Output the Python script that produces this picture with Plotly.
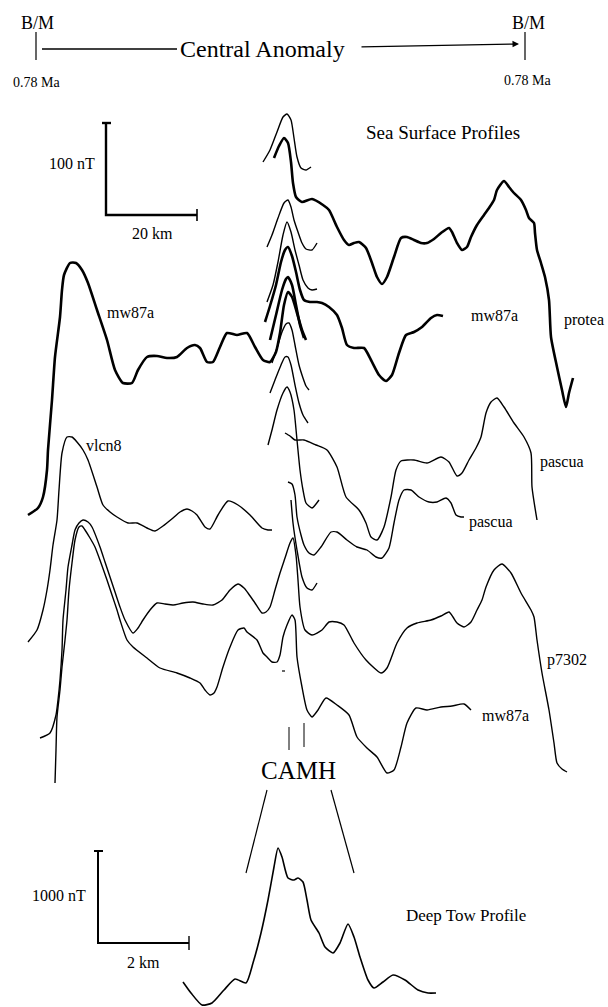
import plotly.graph_objects as go

# Digitised profile traces (page units: x to the right, y downward)
# ---- sea-surface profiles ----
protea_x = [274, 279, 284, 288, 291, 293, 296, 302, 312, 323, 329, 337, 344, 349, 354, 359, 366, 372, 377, 382, 387, 394, 401, 407, 414, 421, 427, 434, 441, 449, 452, 457, 462, 467, 471, 477, 484, 489, 494, 497, 504, 509, 514, 521, 526, 529, 534, 535, 537, 541, 545, 549, 551, 557, 562, 566, 569, 573]
protea_y = [158, 146, 138, 143, 162, 183, 197, 202, 199, 205, 210, 227, 240, 245, 243, 242, 248, 263, 277, 284, 277, 257, 238, 237, 240, 243, 243, 239, 233, 228, 232, 243, 250, 247, 237, 225, 215, 208, 200, 190, 181, 187, 193, 200, 210, 218, 223, 233, 250, 263, 277, 300, 337, 367, 390, 407, 393, 378]

mw87a_r_x = [265, 270, 276, 281, 285, 288, 292, 296, 300, 304, 310, 317, 322, 329, 337, 342, 347, 354, 364, 371, 379, 386, 392, 399, 406, 414, 422, 431, 437, 443]
mw87a_r_y = [322, 306, 285, 262, 250, 247, 256, 272, 290, 300, 302, 302, 303, 307, 315, 328, 345, 348, 348, 360, 375, 381, 375, 353, 335, 332, 327, 318, 315, 316]

mw87a_l_x = [28, 38, 43, 47, 48, 52, 55, 60, 62, 64, 70, 76, 82, 88, 97, 107, 115, 123, 132, 138, 147, 157, 167, 177, 187, 195, 200, 207, 213, 220, 227, 237, 247, 255, 263, 270, 276, 280, 284, 288, 292, 297, 302, 306]
mw87a_l_y = [515, 508, 497, 470, 450, 400, 357, 317, 290, 275, 263, 263, 270, 283, 310, 340, 370, 383, 383, 370, 357, 356, 358, 357, 348, 345, 348, 362, 362, 347, 333, 335, 333, 347, 360, 362, 352, 333, 305, 292, 297, 313, 330, 340]

vlcn8_x = [28, 37, 43, 47, 50, 53, 57, 59, 62, 67, 72, 77, 83, 88, 97, 103, 110, 117, 128, 137, 147, 155, 163, 173, 180, 187, 192, 197, 205, 210, 218, 228, 238, 250, 262, 268, 272]
vlcn8_y = [642, 630, 610, 590, 570, 545, 520, 490, 453, 437, 437, 442, 450, 460, 487, 505, 512, 517, 523, 523, 528, 531, 526, 518, 512, 509, 511, 515, 527, 529, 515, 501, 505, 515, 528, 530, 530]

pascua_u_x = [285, 290, 295, 304, 316, 327, 337, 346, 359, 366, 371, 377, 384, 391, 396, 401, 414, 427, 441, 449, 457, 462, 469, 476, 481, 486, 491, 497, 504, 514, 524, 531, 532, 537]
pascua_u_y = [433, 436, 440, 440, 445, 450, 467, 497, 510, 523, 537, 540, 527, 497, 470, 461, 460, 463, 457, 462, 476, 473, 460, 448, 437, 413, 402, 398, 407, 423, 437, 453, 487, 520]

pascua_l_x = [288, 292, 295, 297, 301, 304, 309, 314, 321, 331, 337, 347, 357, 367, 376, 382, 389, 394, 399, 404, 411, 419, 429, 437, 446, 451, 456, 461, 464]
pascua_l_y = [482, 484, 495, 517, 535, 545, 553, 555, 547, 532, 532, 540, 547, 550, 557, 558, 548, 523, 500, 490, 490, 497, 502, 502, 498, 503, 515, 517, 517]

p7302_x = [40, 50, 56, 58, 60, 62, 63, 66, 68, 72, 75, 79, 83, 88, 92, 100, 105, 110, 115, 120, 125, 133, 138, 143, 150, 157, 165, 173, 183, 193, 203, 213, 222, 230, 238, 244, 248, 255, 262, 266, 270, 275, 280, 285, 290, 293, 296, 298, 300, 305, 312, 322, 329, 337, 344, 354, 366, 381, 387, 397, 407, 417, 431, 441, 449, 453, 457, 464, 471, 477, 482, 486, 494, 502, 511, 521, 531, 534, 537, 542, 549, 554, 557, 562, 567]
p7302_y = [738, 733, 715, 700, 680, 650, 620, 590, 567, 545, 530, 523, 520, 522, 527, 547, 562, 577, 592, 607, 620, 633, 628, 620, 610, 603, 604, 605, 603, 602, 604, 605, 600, 590, 584, 588, 593, 603, 613, 612, 607, 590, 573, 558, 543, 538, 555, 580, 607, 630, 635, 630, 622, 622, 625, 643, 660, 673, 668, 643, 628, 623, 620, 616, 612, 617, 623, 627, 622, 610, 600, 587, 570, 564, 573, 593, 610, 617, 640, 673, 710, 743, 763, 769, 772]

mw87a_b_x = [55, 56, 57, 60, 62, 65, 67, 69, 72, 75, 79, 82, 85, 90, 95, 101, 107, 112, 117, 120, 127, 133, 147, 160, 177, 190, 200, 205, 210, 214, 217, 223, 230, 238, 244, 247, 257, 263, 267, 272, 277, 280, 283, 287, 292, 295, 297, 302, 307, 312, 318, 326, 337, 349, 357, 367, 377, 387, 394, 401, 407, 416, 427, 441, 452, 464, 471]
mw87a_b_y = [783, 750, 717, 690, 667, 640, 620, 590, 563, 540, 527, 526, 530, 538, 547, 563, 580, 595, 610, 620, 640, 647, 658, 668, 673, 678, 683, 690, 695, 693, 687, 667, 647, 630, 628, 632, 640, 653, 657, 662, 662, 655, 637, 625, 615, 620, 657, 687, 710, 717, 710, 698, 705, 715, 737, 748, 757, 773, 770, 747, 723, 708, 710, 707, 706, 704, 710]

# short central strokes (stacked peaks)
c1_x = [263, 270, 277, 283, 287, 291, 294, 297, 301, 306, 311]
c1_y = [162, 150, 132, 117, 114, 120, 138, 157, 168, 170, 167]
c2_x = [267, 272, 278, 284, 288, 291, 294, 298, 302, 306, 312, 317]
c2_y = [247, 235, 218, 203, 200, 207, 220, 232, 243, 249, 250, 243]
c3_x = [267, 273, 278, 283, 287, 291, 295, 299, 303, 308, 312, 317]
c3_y = [302, 285, 262, 235, 222, 232, 250, 265, 280, 288, 290, 289]
c4_x = [270, 276, 282, 286, 288, 292, 296, 300, 304]
c4_y = [340, 315, 290, 279, 277, 285, 305, 325, 338]
c5_x = [272, 277, 282, 286, 289, 292, 295, 299, 303, 306, 309]
c5_y = [363, 348, 332, 324, 323, 330, 345, 365, 378, 386, 390]
c6_x = [270, 275, 281, 285, 288, 291, 295, 299, 303, 308]
c6_y = [393, 380, 365, 357, 357, 365, 385, 403, 415, 423]
c7_x = [268, 272, 277, 283, 287, 290, 294, 297, 300, 303, 306, 312, 319]
c7_y = [445, 430, 410, 393, 387, 392, 410, 440, 470, 490, 503, 508, 500]
c8_x = [291, 293, 297, 302, 307, 312, 317]
c8_y = [500, 523, 550, 577, 588, 590, 583]

# ---- deep tow profile ----
deep_x = [183, 191, 202, 212, 224, 235, 246, 253, 261, 268, 274, 278, 282, 288, 294, 298, 303, 307, 311, 319, 325, 333, 340, 348, 354, 360, 368, 374, 383, 393, 405, 418, 428, 436]
deep_y = [982, 993, 1005, 1003, 990, 979, 983, 963, 933, 900, 867, 848, 857, 878, 880, 878, 882, 900, 920, 933, 947, 953, 943, 924, 937, 957, 980, 988, 982, 975, 980, 990, 993, 993]

profile_labels = ["mw87a", "vlcn8", "mw87a", "pascua", "pascua", "p7302", "mw87a"]
label_x = [130, 104, 494, 562, 491, 567, 505]
label_y = [312, 445, 315, 462, 522, 660, 715]

thick = 2.6
thin = 1.4
traces = [
    (protea_x, protea_y, thick), (mw87a_r_x, mw87a_r_y, thick), (mw87a_l_x, mw87a_l_y, thick),
    (vlcn8_x, vlcn8_y, thin), (pascua_u_x, pascua_u_y, thin), (pascua_l_x, pascua_l_y, thin),
    (p7302_x, p7302_y, thin), (mw87a_b_x, mw87a_b_y, thin),
    (c1_x, c1_y, thin), (c2_x, c2_y, thin), (c3_x, c3_y, thin), (c4_x, c4_y, thick),
    (c5_x, c5_y, thin), (c6_x, c6_y, thin), (c7_x, c7_y, thin), (c8_x, c8_y, thin),
    (deep_x, deep_y, 1.6),
]

fig = go.Figure()
for xs, ys, w in traces:
    fig.add_trace(go.Scatter(x=xs, y=ys, mode="lines", hoverinfo="skip",
                             line=dict(color="black", width=w, shape="spline", smoothing=0.6)))

def seg(xs, ys, w=1.4):
    fig.add_trace(go.Scatter(x=xs, y=ys, mode="lines", hoverinfo="skip",
                             line=dict(color="black", width=w)))

# header: B/M ticks and central anomaly line
seg([36, 36], [32, 60], 1.2)
seg([525, 525], [32, 60], 1.2)
seg([42, 177], [49, 49], 1.3)
fig.add_annotation(x=519, y=44, ax=360, ay=47, xref="x", yref="y", axref="x", ayref="y",
                   showarrow=True, arrowhead=2, arrowsize=1, arrowwidth=1.3, arrowcolor="black", text="")

# scale bars
seg([106, 106, 197], [123, 215, 215], 2.4)
seg([102, 111], [123, 123], 2.4)
seg([197, 197], [209, 221], 1.6)
seg([98, 98, 189], [851, 943, 943], 2.0)
seg([94, 103], [851, 851], 2.0)
seg([189, 189], [936, 950], 1.4)

# CAMH markers and connecting lines
seg([289, 289], [727, 750], 1.0)
seg([304, 304], [723, 747], 1.0)
seg([267, 246], [790, 873], 1.2)
seg([331, 354], [790, 873], 1.2)
seg([282, 285], [671, 671], 1.2)

serif = "Liberation Serif"
def txt(s, x, y, size, anchor="center"):
    fig.add_annotation(x=x, y=y, text=s, showarrow=False, xref="x", yref="y", xanchor=anchor,
                       font=dict(family=serif, size=size, color="black"))

txt("B/M", 37, 23, 18)
txt("B/M", 528, 23, 18)
txt("0.78 Ma", 36, 82, 14)
txt("0.78 Ma", 527, 80, 14)
fig.add_annotation(x=262, y=49, text="Central Anomaly", showarrow=False, xref="x", yref="y",
                   font=dict(family=serif, size=24, color="black"))
txt("100 nT", 72, 163, 16)
txt("20 km", 152, 233, 16)
txt("Sea Surface Profiles", 443, 132, 19)
for s, x, y in zip(profile_labels, label_x, label_y):
    txt(s, x, y, 16)
txt("protea", 606, 320, 16, "right")
txt("CAMH", 298, 770, 25)
txt("1000 nT", 59, 895, 16)
txt("2 km", 143, 962, 16)
txt("Deep Tow Profile", 466, 915, 17)

fig.update_layout(width=608, height=1007, margin=dict(l=0, r=0, t=0, b=0),
                  paper_bgcolor="white", plot_bgcolor="white", showlegend=False)
fig.update_xaxes(range=[0, 608], visible=False, fixedrange=True)
fig.update_yaxes(range=[1007, 0], visible=False, fixedrange=True)
fig.write_html("out.html", config={"displayModeBar": False},
               post_script="document.body.style.margin='0';document.body.style.overflow='hidden';")
